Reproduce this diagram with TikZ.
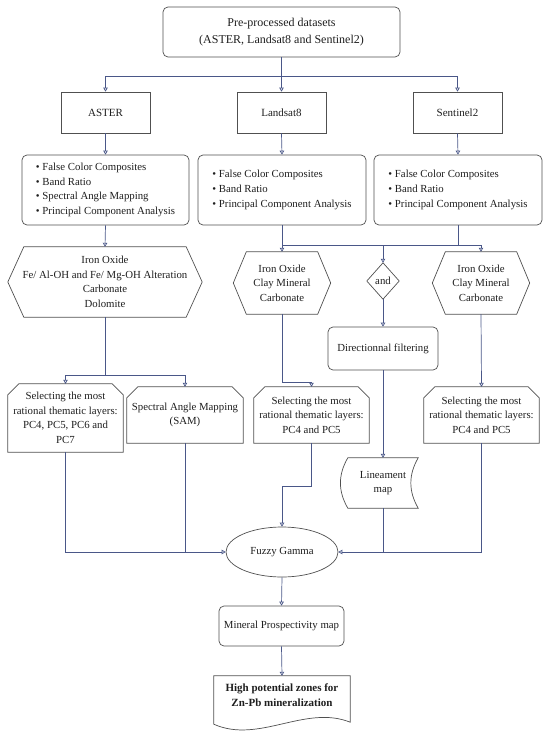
\documentclass[tikz,border=0pt]{standalone}
\usepackage{fontspec}
\setmainfont{Liberation Serif}
\usetikzlibrary{arrows.meta,shapes.geometric,calc}
\definecolor{connc}{HTML}{4A5788}
\definecolor{edgec}{HTML}{505050}
\definecolor{txtc}{HTML}{1E1E1E}
\begin{document}
\begin{tikzpicture}[x=1pt,y=-1pt,
  every node/.style={font=\fontsize{10.8}{14.6}\selectfont, text=txtc, inner sep=0pt},
  rbox/.style={draw=edgec, line width=0.7pt, rounded corners=5pt, align=center},
  pbox/.style={draw=edgec, line width=0.7pt, align=center},
  ghost/.style={align=center},
  shp/.style={draw=edgec, line width=0.7pt},
  cline/.style={draw=connc, line width=0.7pt},
  arr/.style={cline, -{Triangle[open,length=4pt,width=4.5pt]}},
]
\useasboundingbox (0,0) rectangle (550,735);

% top
\node[rbox, minimum width=237pt, minimum height=50pt, font=\fontsize{12}{17}\selectfont] (top) at (281.5,32) {Pre-processed datasets\\(ASTER, Landsat8 and Sentinel2)};

% sensors
\node[pbox, minimum width=89pt, minimum height=41pt, font=\fontsize{11}{14}\selectfont] (aster) at (105.5,112.5) {ASTER};
\node[pbox, minimum width=89pt, minimum height=41pt, font=\fontsize{11}{14}\selectfont] (landsat) at (281.5,112.5) {Landsat8};
\node[pbox, minimum width=89pt, minimum height=41pt, font=\fontsize{11}{14}\selectfont] (sentinel) at (457.5,112.5) {Sentinel2};

% lists
\node[rbox, align=left, minimum width=167pt, minimum height=70pt] (alist) at (105.5,190) {\textbullet\ False Color Composites\\\textbullet\ Band Ratio\\\textbullet\ Spectral Angle Mapping\\\textbullet\ Principal Component Analysis};
\node[rbox, align=left, minimum width=168pt, minimum height=70pt] (llist) at (282,190) {\textbullet\ False Color Composites\\\textbullet\ Band Ratio\\\textbullet\ Principal Component Analysis};
\node[rbox, align=left, minimum width=168pt, minimum height=70pt] (slist) at (458,190) {\textbullet\ False Color Composites\\\textbullet\ Band Ratio\\\textbullet\ Principal Component Analysis};

% hexagons
\node[ghost, minimum width=194pt, minimum height=70pt] (ahex) at (105,282) {Iron Oxide\\Fe/ Al-OH and Fe/ Mg-OH Alteration\\Carbonate\\Dolomite};
\node[ghost, minimum width=97pt, minimum height=62pt] (lhex) at (282,283) {Iron Oxide\\Clay Mineral\\Carbonate};
\node[ghost, minimum width=97pt, minimum height=62pt] (shex) at (481,283) {Iron Oxide\\Clay Mineral\\Carbonate};
\foreach \n/\o in {ahex/16,lhex/13,shex/13}
  \draw[shp] (\n.west) -- ([xshift=\o pt]\n.north west) -- ([xshift=-\o pt]\n.north east) -- (\n.east) -- ([xshift=-\o pt]\n.south east) -- ([xshift=\o pt]\n.south west) -- cycle;

% diamond
\node[ghost, minimum width=32pt, minimum height=36pt] (dia) at (383,281) {and};
\draw[shp] (dia.north) -- (dia.east) -- (dia.south) -- (dia.west) -- cycle;

% directional filtering
\node[rbox, minimum width=110pt, minimum height=43pt] (dfilt) at (383,348.5) {Directionnal filtering};

% selecting boxes
\node[ghost, minimum width=115pt, minimum height=68pt] (selA) at (65.5,418) {Selecting the most\\rational thematic layers:\\PC4, PC5, PC6 and\\PC7};
\node[ghost, minimum width=116pt, minimum height=56pt] (sam) at (185,415) {Spectral Angle Mapping\\(SAM)};
\node[ghost, minimum width=115pt, minimum height=56pt] (selL) at (311.5,415) {Selecting the most\\rational thematic layers:\\PC4 and PC5};
\node[ghost, minimum width=115pt, minimum height=56pt] (selS) at (481.5,415) {Selecting the most\\rational thematic layers:\\PC4 and PC5};
\foreach \n in {selA,sam,selL,selS}
  \draw[shp] (\n.south west) -- ([yshift=-11pt]\n.north west) -- ([xshift=11pt]\n.north west) -- ([xshift=-11pt]\n.north east) -- ([yshift=-11pt]\n.north east) -- (\n.south east) -- cycle;

% lineament map
\node[ghost, minimum width=70pt, minimum height=50pt] (lin) at (383,483) {Lineament\\map};
\draw[shp] (lin.north west) -- (lin.north east) to[bend right=30] (lin.south east) -- (lin.south west) to[bend left=30] (lin.north west) -- cycle;

% fuzzy gamma
\node[ellipse, draw=edgec, line width=0.7pt, minimum width=112pt, minimum height=50pt] (fg) at (282,552) {Fuzzy Gamma};

% mineral prospectivity map
\node[rbox, minimum width=125pt, minimum height=40pt] (mpm) at (281.5,626) {Mineral Prospectivity map};

% document
\node[ghost, minimum width=136pt, minimum height=38pt, font=\bfseries\fontsize{11}{14.6}\selectfont] (doc) at (282,695) {High potential zones for\\Zn-Pb mineralization};
\draw[shp] (doc.north west) -- (doc.north east) -- ([yshift=-8pt]doc.south east) .. controls ([xshift=-45pt,yshift=10pt]doc.south east) and ([xshift=45pt,yshift=-30pt]doc.south west) .. ([yshift=-10pt]doc.south west) -- cycle;

% connectors
\coordinate (j1) at (281.5,76);
\draw[cline] (top.south) -- (j1);
\draw[arr] (j1) -| (aster.north);
\draw[arr] (j1) -- (landsat.north);
\draw[arr] (j1) -| (sentinel.north);

\draw[arr] (aster.south) -- (alist.north);
\draw[arr] (landsat.south) -- (llist.north);
\draw[arr] (sentinel.south) -- (slist.north);

\draw[arr] (alist.south) -- (ahex.north);

\coordinate (j2) at (282,245);
\draw[cline] (llist.south) -- (j2) -- (shex.north |- j2);
\draw[cline] (slist.south) -- (slist.south |- j2);
\draw[arr] (j2) -- (lhex.north);
\draw[arr] (dia.north |- j2) -- (dia.north);
\draw[arr] (shex.north |- j2) -- (shex.north);

\draw[arr] (dia.south) -- (dfilt.north);
\draw[arr] (dfilt.south) -- (lin.north);

\coordinate (j4) at (105,375);
\draw[cline] (ahex.south) -- (j4);
\draw[arr] (j4) -| (selA.north);
\draw[arr] (j4) -| (sam.north);

\coordinate (j5) at (282,382);
\draw[arr] (lhex.south) -- (j5) -| (selL.north);
\draw[arr] (shex.south) -- (selS.north);

\coordinate (j6) at (65.5,552);
\draw[arr] (selA.south) -- (j6) -- (fg.west);
\draw[cline] (sam.south) -- (sam.south |- fg.west);
\coordinate (j7) at (311.5,486);
\draw[arr] (selL.south) -- (j7) -| (fg.north);
\draw[cline] (selS.south) |- (lin.south |- fg.east);
\draw[arr] (lin.south) |- (fg.east);

\draw[arr] (fg.south) -- (mpm.north);
\draw[arr] (mpm.south) -- (doc.north);
\end{tikzpicture}
\end{document}
